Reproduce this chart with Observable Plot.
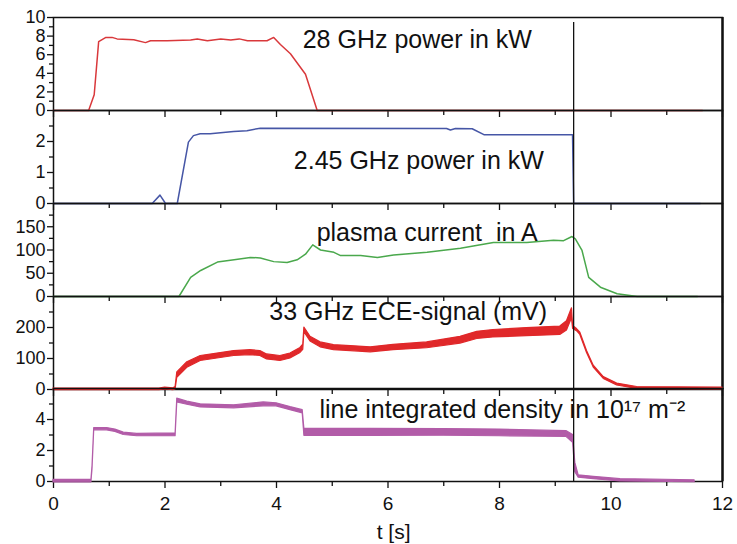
<!DOCTYPE html>
<html><head><meta charset="utf-8">
<script src="https://cdn.jsdelivr.net/npm/d3@7"></script>
<script src="https://cdn.jsdelivr.net/npm/@observablehq/plot@0.6"></script>
<style>
body{margin:0;background:#fff;}
#wrap{position:relative;width:737px;height:544px;overflow:hidden;background:#fff;}
#wrap svg{position:absolute;left:0;}
</style></head><body><div id="wrap"></div>
<script>
// ---- data ----
const xTicksMajor = [0, 2, 4, 6, 8, 10, 12];
const xTicksMinor = [1, 3, 5, 7, 9, 11];
const cutoffT = 9.33;

// 28 GHz power (kW)
const p1T = [0, 0.63, 0.73, 0.81, 0.94, 1.05, 1.14, 1.44, 1.65, 1.74, 2.04, 2.46, 2.58, 2.76, 3.0, 3.18, 3.33, 3.48, 3.83, 3.95, 4.07, 4.25, 4.52, 4.73, 11.64];
const p1V = [0, 0, 1.7, 7.4, 7.86, 7.86, 7.7, 7.6, 7.3, 7.5, 7.5, 7.57, 7.7, 7.5, 7.7, 7.57, 7.7, 7.5, 7.5, 7.86, 7.1, 6.1, 3.9, 0, 0];

// 2.45 GHz power (kW)
const p2T = [0, 1.77, 1.91, 2.01, 2.22, 2.42, 2.51, 2.63, 2.81, 3.23, 3.47, 3.71, 7.05, 7.12, 7.21, 7.51, 7.72, 9.31, 9.33, 11.6];
const p2V = [0, 0, 0.27, 0, 0, 1.98, 2.19, 2.25, 2.25, 2.32, 2.35, 2.43, 2.42, 2.37, 2.42, 2.41, 2.22, 2.22, 0, 0];

// plasma current (A)
const p3T = [0, 2.25, 2.46, 2.64, 2.94, 3.24, 3.53, 3.71, 3.95, 4.19, 4.37, 4.52, 4.65, 4.79, 5.03, 5.15, 5.51, 5.81, 6.1, 6.7, 7.3, 7.89, 8.49, 8.97, 9.15, 9.30, 9.36, 9.48, 9.60, 9.81, 10.11, 10.47, 11.55];
const p3V = [0, 0, 41, 56, 74, 79, 84, 83, 75, 73, 79, 91, 111, 100, 95, 88, 88, 84, 89, 95, 104, 116, 116, 121, 120, 129, 124, 99, 41, 20, 6, 0, 0];

// 33 GHz ECE signal (mV): noise envelope low / high
const p4T  = [0, 1.9, 2.0, 2.15, 2.19, 2.22, 2.4, 2.64, 2.94, 3.24, 3.53, 3.71, 3.83, 4.07, 4.25, 4.43, 4.48, 4.50, 4.61, 4.79, 5.03, 5.33, 5.69, 6.1, 6.7, 7.3, 7.6, 7.89, 8.49, 9.09, 9.21, 9.30, 9.32, 9.39, 9.45, 9.57, 9.69, 9.87, 10.11, 10.47, 12.0];
const p4Lo = [-2, -2, 0, -2, 0, 38, 70, 92, 100, 108, 111, 108, 97, 92, 100, 118, 128, 185, 155, 136, 127, 124, 120, 127, 133, 148, 163, 168, 172, 176, 190, 230, 195, 188, 176, 118, 71, 34, 13, 2, 0];
const p4Hi = [3, 3, 6, 4, 8, 55, 88, 108, 116, 124, 127, 124, 113, 108, 116, 134, 145, 200, 170, 152, 143, 140, 136, 144, 152, 170, 186, 192, 198, 203, 220, 262, 205, 195, 183, 124, 77, 40, 19, 8, 6];

// line integrated density (1e17 m^-2): noise envelope low / high
const p5T  = [0, 0.68, 0.70, 0.73, 0.96, 1.11, 1.26, 1.5, 2.19, 2.22, 2.4, 2.64, 3.24, 3.77, 4.0, 4.25, 4.47, 4.50, 5.69, 7.0, 8.0, 9.2, 9.32, 9.36, 9.42, 9.69, 10.17, 11.5];
const p5Lo = [-0.05, -0.05, 0.8, 3.3, 3.3, 3.2, 3.0, 2.92, 2.92, 5.1, 4.95, 4.78, 4.72, 4.85, 4.85, 4.6, 4.4, 2.95, 2.95, 2.95, 2.92, 2.88, 2.5, 0.6, 0.25, 0.15, 0.0, -0.05];
const p5Hi = [0.1, 0.1, 1.0, 3.45, 3.45, 3.35, 3.15, 3.07, 3.1, 5.35, 5.15, 4.98, 4.92, 5.1, 5.05, 4.8, 4.6, 3.4, 3.4, 3.38, 3.35, 3.25, 3.0, 1.2, 0.4, 0.3, 0.15, 0.08];

// panel scales and labels
const yDomains = [[0, 10], [0, 3], [0, 200], [0, 300], [0, 6]];
const yMajor = [[0, 2, 4, 6, 8, 10], [0, 1, 2], [0, 50, 100, 150], [0, 100, 200], [0, 2, 4]];
const yMinor = [[1, 3, 5, 7, 9], [0.5, 1.5, 2.5], [25, 75, 125, 175], [50, 150, 250], [1, 3, 5]];
const panelLabels = ["28 GHz power in kW", "2.45 GHz power in kW", "plasma current\u00a0\u00a0in A", "33 GHz ECE-signal (mV)", "line integrated density in 10\u00b9\u2077 m\u207b\u00b2"];
const labelT = [4.47, 4.31, 4.72, 3.87, 4.77];
const labelV = [7.6, 1.37, 137, 250, 4.62];
const xLabel = "t [s]";

// ---- drawing ----
const colors = ["#d9383b", "#4656a6", "#4aa84c", "#e0282a", "#b25ca8"];
const font = "'Liberation Sans', Arial, sans-serif";
const tops = [17, 110, 203, 296, 388];
const panelH = 93;
const wrap = document.getElementById("wrap");

function pts(T, V) { return T.map((t, i) => ({t, v: V[i]})); }
function band(T, L, H) { return T.map((t, i) => ({t, lo: L[i], hi: H[i]})); }

for (let i = 0; i < 5; i++) {
  const last = i === 4;
  const marks = [];
  let data;
  if (i === 0) data = Plot.lineY(pts(p1T, p1V), {x: "t", y: "v", stroke: colors[0], strokeWidth: 1.5});
  if (i === 1) data = Plot.lineY(pts(p2T, p2V), {x: "t", y: "v", stroke: colors[1], strokeWidth: 1.5});
  if (i === 2) data = Plot.lineY(pts(p3T, p3V), {x: "t", y: "v", stroke: colors[2], strokeWidth: 1.5});
  if (i === 3) data = Plot.areaY(band(p4T, p4Lo, p4Hi), {x: "t", y1: "lo", y2: "hi", fill: colors[3], stroke: colors[3], strokeWidth: 1.2});
  if (i === 4) data = Plot.areaY(band(p5T, p5Lo, p5Hi), {x: "t", y1: "lo", y2: "hi", fill: colors[4], stroke: colors[4], strokeWidth: 1.2});

  marks.push(Plot.frame({stroke: "#111", strokeWidth: 1.5}));
  marks.push(Plot.ruleX([12], {stroke: "#111", strokeWidth: 2.4}));
  marks.push(Plot.axisY(yMajor[i], {tickSize: 6, tickPadding: 2, fontSize: 18, label: null, stroke: "#111", strokeWidth: 1.3}));
  marks.push(Plot.axisY(yMinor[i], {tickSize: 4, tickFormat: () => "", label: null, stroke: "#111", strokeWidth: 1.3}));
  marks.push(Plot.axisX(xTicksMajor, {tickSize: 7, tickPadding: 8, fontSize: 19, tickFormat: last ? (d => d) : (() => ""), label: null, stroke: "#111", strokeWidth: 1.3}));
  marks.push(Plot.axisX(xTicksMinor, {tickSize: 5, tickFormat: () => "", label: null, stroke: "#111", strokeWidth: 1.3}));
  marks.push(data);
  if (i === 0) marks.push(Plot.ruleX([cutoffT], {y1: 0, y2: 9.46, stroke: "#111", strokeWidth: 1.3}));
  else marks.push(Plot.ruleX([cutoffT], {stroke: "#111", strokeWidth: 1.3}));
  marks.push(Plot.text([panelLabels[i]], {x: labelT[i], y: labelV[i], text: d => d, textAnchor: "start", fontSize: 25, fill: "#111"}));
  if (last) marks.push(Plot.text([xLabel], {x: 6.1, frameAnchor: "bottom", dy: 57, text: d => d, fontSize: 21, fill: "#111"}));

  const svg = Plot.plot({
    width: 737,
    height: panelH + (last ? 63 : 0),
    marginLeft: 53, marginRight: 15, marginTop: 0, marginBottom: last ? 63 : 0,
    x: {domain: [0, 12]},
    y: {domain: yDomains[i]},
    style: {overflow: "visible", background: "transparent", fontFamily: font, color: "#111", fontSize: "18px"},
    marks
  });
  svg.style.top = tops[i] + "px";
  wrap.appendChild(svg);
}
</script></body></html>
